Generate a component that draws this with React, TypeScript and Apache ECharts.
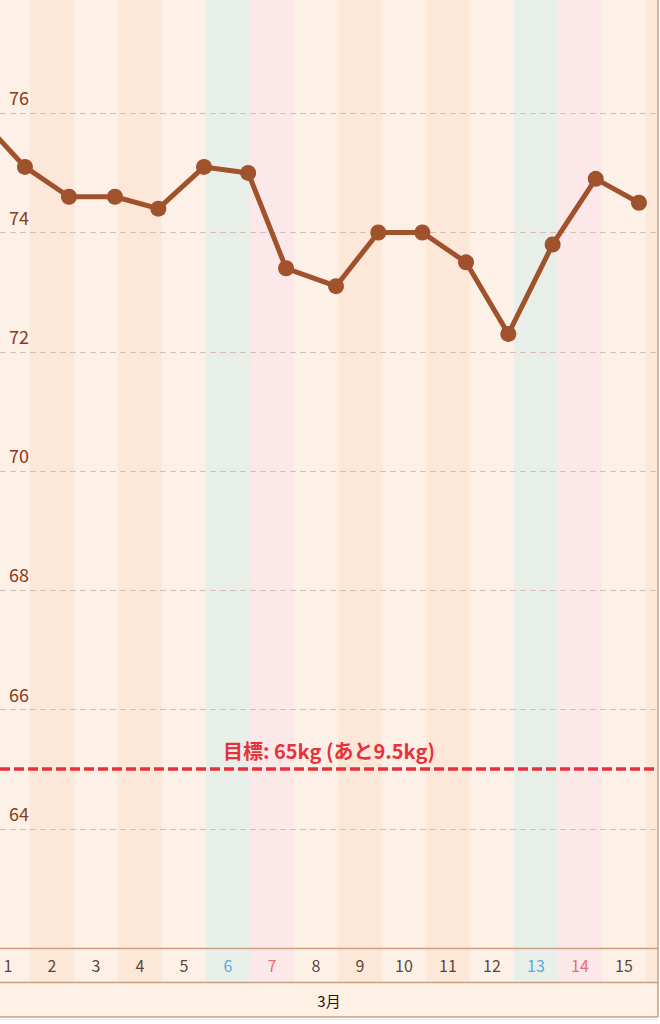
import React, { useEffect, useRef } from "react";
import * as echarts from "echarts";

// ---- data ----
const monthLabel = "3月";
const dayNumbers = [1, 2, 3, 4, 5, 6, 7, 8, 9, 10, 11, 12, 13, 14, 15, 16];
const weekdays = ["月", "火", "水", "木", "金", "土", "日", "月", "火", "水", "木", "金", "土", "日", "月", "火"];
const weighDays = [0, 1, 2, 3, 4, 5, 6, 7, 8, 9, 10, 11, 12, 13, 14, 15];
const weighTimes = [
  "21:15", "21:15", "21:15", "22:20", "22:00", "22:55", "23:00", "19:40",
  "22:55", "22:00", "22:00", "21:50", "20:55", "21:05", "20:35", "20:10",
];
const weights = [75.9, 75.1, 74.6, 74.6, 74.4, 75.1, 75.0, 73.4, 73.1, 74.0, 74.0, 73.5, 72.3, 73.8, 74.9, 74.5];
const goalWeight = 65;
const yMin = 62;
const yMax = 77.9;
const yStep = 2;
const viewStart = 1.318;
const viewEnd = 16.273;

// ---- style ----
const FONT = '"Noto Sans CJK JP", "Noto Sans", sans-serif';
const LINE_COLOR = "#a0522d";
const BORDER = "#c9a083";

function bandColor(w: string): string {
  if (w === "土") return "#e8efe9";
  if (w === "日") return "#fde8e9";
  if (w === "火" || w === "木") return "#fde7d9";
  return "#fdf0e6";
}
function labelColor(w: string): string {
  if (w === "土") return "#2b9bd8";
  if (w === "日") return "#e5474d";
  return "#2e140a";
}
function toX(day: number, time: string): number {
  const [h, m] = time.split(":").map(Number);
  return day + (h + m / 60) / 24;
}

export default function App() {
  const ref = useRef<HTMLDivElement>(null);
  useEffect(() => {
    if (!ref.current) return;
    const chart = echarts.init(ref.current, null, { renderer: "svg" });
    const bands = dayNumbers.map((d, i) => [
      { xAxis: d, itemStyle: { color: bandColor(weekdays[i]) } },
      { xAxis: d + 1 },
    ]);
    const lineData = weighDays.map((d, i) => [toX(d, weighTimes[i]), weights[i]]);
    const last = weights[weights.length - 1];
    const remain = (last - goalWeight).toFixed(1);
    const labelData = dayNumbers
      .map((d, i) => ({ d, i }))
      .filter(({ d }) => d + 0.5 >= viewStart && d + 0.5 <= viewEnd)
      .map(({ d, i }) => ({
        name: String(d),
        value: [d + 0.5, 0.5],
        label: { color: labelColor(weekdays[i]) },
      }));

    chart.setOption({
      animation: false,
      backgroundColor: "#ffffff",
      textStyle: { fontFamily: FONT },
      grid: [
        { left: 0, right: 2, top: 0, height: 948, containLabel: false },
        { left: 0, right: 2, top: 948, height: 34, containLabel: false },
      ],
      xAxis: [
        { type: "value", gridIndex: 0, min: viewStart, max: viewEnd, show: false },
        { type: "value", gridIndex: 1, min: viewStart, max: viewEnd, show: false },
      ],
      yAxis: [
        {
          type: "value",
          gridIndex: 0,
          min: yMin,
          max: yMax,
          interval: yStep,
          z: 2,
          axisLine: { show: false },
          axisTick: { show: false },
          axisLabel: {
            inside: true,
            margin: 9,
            align: "left",
            verticalAlign: "bottom",
            padding: [0, 0, 7, 0],
            color: "#8b3a1a",
            fontSize: 18,
            fontFamily: FONT,
            showMinLabel: false,
            showMaxLabel: false,
          },
          splitLine: {
            show: true,
            showMinLine: false,
            showMaxLine: false,
            lineStyle: { color: "#d3c0b4", width: 1, type: [6, 4] },
          },
        },
        { type: "value", gridIndex: 1, min: 0, max: 1, show: false },
      ],
      series: [
        {
          type: "line",
          xAxisIndex: 0,
          yAxisIndex: 0,
          data: [],
          silent: true,
          z: 0,
          markArea: { silent: true, data: bands },
        },
        {
          type: "line",
          xAxisIndex: 0,
          yAxisIndex: 0,
          data: lineData,
          z: 3,
          clip: true,
          symbol: "circle",
          symbolSize: 16,
          itemStyle: { color: LINE_COLOR },
          lineStyle: { color: LINE_COLOR, width: 5 },
          markLine: {
            silent: true,
            symbol: ["none", "none"],
            lineStyle: { color: "#e8313a", width: 3.5, type: [10, 4] },
            label: {
              show: true,
              position: "insideMiddleTop",
              distance: 9,
              formatter: `目標: ${goalWeight}kg (あと${remain}kg)`,
              color: "#e8313a",
              fontSize: 20,
              fontWeight: "bold",
              fontFamily: FONT,
            },
            data: [{ yAxis: goalWeight }],
          },
        },
        {
          type: "scatter",
          xAxisIndex: 1,
          yAxisIndex: 1,
          symbolSize: 0,
          silent: true,
          data: labelData,
          label: {
            show: true,
            position: "inside",
            formatter: "{b}",
            fontSize: 16,
            fontFamily: FONT,
          },
          markArea: { silent: true, data: bands },
        },
      ],
      graphic: [
        {
          type: "rect",
          z: 5,
          shape: { x: 0, y: 982, width: 658, height: 35 },
          style: { fill: "#fdf0e4" },
        },
        {
          type: "text",
          z: 11,
          x: 329,
          y: 1000,
          style: {
            text: monthLabel,
            fill: "#2e140a",
            font: `15px ${FONT}`,
            textAlign: "center",
            textVerticalAlign: "middle",
          },
        },
        { type: "line", z: 10, shape: { x1: 0, y1: 948.5, x2: 658, y2: 948.5 }, style: { stroke: BORDER, lineWidth: 1.5 } },
        { type: "line", z: 10, shape: { x1: 0, y1: 982.5, x2: 658, y2: 982.5 }, style: { stroke: BORDER, lineWidth: 1.5 } },
        { type: "line", z: 10, shape: { x1: 0, y1: 1017, x2: 658, y2: 1017 }, style: { stroke: BORDER, lineWidth: 1.5 } },
        { type: "line", z: 10, shape: { x1: 0, y1: 1019.5, x2: 658, y2: 1019.5 }, style: { stroke: "#e6e6e6", lineWidth: 1 } },
        { type: "line", z: 10, shape: { x1: 658, y1: 0, x2: 658, y2: 1017 }, style: { stroke: BORDER, lineWidth: 1.5 } },
      ],
    });
    return () => chart.dispose();
  }, []);
  return (
    <div
      ref={ref}
      style={{ position: "absolute", left: 0, top: 0, width: 660, height: 1024 }}
    />
  );
}
